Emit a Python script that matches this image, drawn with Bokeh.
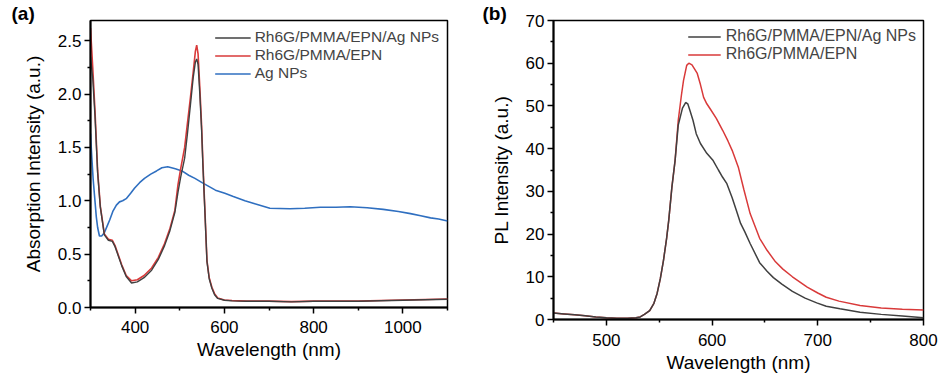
from bokeh.plotting import figure
from bokeh.layouts import row, column
from bokeh.models import Range1d, FixedTicker, Legend, LegendItem, PrintfTickFormatter
from bokeh.embed import file_html
from bokeh.resources import INLINE

# ---------------- Panel (a): absorption ----------------
a_wl_epn = [300, 305, 310, 316, 322, 331, 340, 349, 355, 360, 370, 380, 392, 405, 420, 437, 452, 466,
            478, 489, 496, 502, 511, 517, 524, 530, 535, 538, 541, 545, 549, 552, 556, 561, 566, 572,
            578, 585, 600, 617, 650, 700, 750, 800, 850, 900, 950, 1000, 1050, 1100]
a_abs_epn = [2.62, 2.25, 1.85, 1.28, 0.95, 0.69, 0.64, 0.63, 0.58, 0.52, 0.40, 0.30, 0.25, 0.26, 0.30,
             0.37, 0.47, 0.60, 0.74, 0.91, 1.15, 1.30, 1.50, 1.72, 1.97, 2.20, 2.40, 2.46, 2.38, 2.06,
             1.70, 1.35, 0.95, 0.44, 0.28, 0.19, 0.13, 0.09, 0.07, 0.065, 0.06, 0.06, 0.055, 0.06,
             0.06, 0.06, 0.065, 0.07, 0.075, 0.08]

a_wl_ag_film = [300, 305, 310, 316, 322, 331, 340, 349, 355, 360, 370, 380, 392, 405, 420, 437, 452, 466,
                478, 489, 496, 502, 511, 517, 524, 530, 535, 538, 541, 545, 549, 552, 556, 561, 566, 572,
                578, 585, 600, 617, 650, 700, 750, 800, 850, 900, 950, 1000, 1050, 1100]
a_abs_ag_film = [2.35, 2.15, 1.80, 1.26, 0.94, 0.68, 0.63, 0.62, 0.57, 0.51, 0.39, 0.29, 0.23, 0.24, 0.28,
                 0.35, 0.45, 0.58, 0.72, 0.89, 1.08, 1.22, 1.40, 1.62, 1.90, 2.15, 2.30, 2.33, 2.28, 2.00,
                 1.66, 1.32, 0.93, 0.43, 0.27, 0.18, 0.12, 0.085, 0.068, 0.062, 0.058, 0.058, 0.053, 0.058,
                 0.058, 0.058, 0.063, 0.068, 0.073, 0.078]

a_wl_ag = [300, 303, 306, 309, 313, 316, 320, 325, 331, 337, 343, 350, 358, 365, 372, 380, 390, 399, 410,
           421, 435, 448, 460, 473, 490, 505, 520, 534, 550, 563, 580, 601, 620, 646, 670, 702, 747, 780,
           815, 850, 882, 920, 956, 990, 1017, 1040, 1062, 1080, 1100]
a_abs_ag = [1.63, 1.40, 1.20, 1.05, 0.85, 0.75, 0.67, 0.67, 0.70, 0.76, 0.82, 0.90, 0.96, 0.99, 1.00, 1.02,
            1.07, 1.12, 1.17, 1.21, 1.25, 1.28, 1.31, 1.32, 1.30, 1.28, 1.24, 1.21, 1.17, 1.14, 1.10, 1.07,
            1.04, 1.00, 0.97, 0.93, 0.925, 0.93, 0.94, 0.94, 0.945, 0.935, 0.92, 0.90, 0.88, 0.86, 0.84,
            0.83, 0.81]

a_xticks = [400, 600, 800, 1000]
a_xminor = [300, 500, 700, 900, 1100]
a_yticks = [0.0, 0.5, 1.0, 1.5, 2.0, 2.5]
a_yminor = [0.25, 0.75, 1.25, 1.75, 2.25]

# ---------------- Panel (b): PL ----------------
b_wl_epn = [450, 460, 470, 480, 490, 500, 510, 520, 528, 532, 536, 541, 545, 548, 551, 554, 557, 559, 562,
            565, 568, 571, 573, 576, 578, 581, 586, 589, 592, 595, 598, 604, 610, 615, 619, 625, 630, 636,
            645, 652, 660, 667, 676, 690, 700, 708, 720, 740, 760, 780, 800]
b_pl_epn = [1.5, 1.3, 1.1, 0.9, 0.6, 0.4, 0.3, 0.3, 0.4, 0.6, 1.2, 2.1, 3.8, 6.1, 9.5, 13.8, 19.0, 23.2,
            31.0, 37.2, 46.6, 52.5, 56.0, 59.5, 60.0, 59.6, 57.6, 55.0, 52.0, 50.5, 49.4, 47.1, 44.3, 41.8,
            39.6, 35.5, 30.5, 24.8, 19.0, 16.2, 13.5, 11.8, 10.0, 7.6, 6.2, 5.2, 4.3, 3.3, 2.7, 2.4, 2.2]

b_wl_ag = [450, 460, 470, 480, 490, 500, 510, 520, 528, 532, 536, 541, 545, 548, 551, 554, 557, 559, 562,
           565, 568, 570, 572, 575, 577, 579, 582, 585, 589, 595, 601, 606, 610, 614, 619, 623, 627, 631,
           636, 645, 652, 658, 666, 676, 688, 699, 708, 721, 740, 760, 780, 800]
b_pl_ag = [1.5, 1.3, 1.1, 0.9, 0.6, 0.4, 0.3, 0.3, 0.4, 0.6, 1.2, 2.1, 3.8, 6.1, 9.5, 13.8, 19.0, 23.2,
           31.0, 37.2, 45.5, 47.5, 49.5, 50.8, 50.5, 49.0, 46.6, 43.5, 41.2, 38.9, 37.2, 35.0, 33.3, 31.8,
           28.5, 25.5, 22.5, 20.5, 17.8, 13.3, 11.3, 9.8, 8.3, 6.6, 5.0, 3.9, 3.1, 2.5, 1.7, 1.2, 0.8, 0.4]

b_xticks = [500, 600, 700, 800]
b_xminor = [450, 550, 650, 750]
b_yticks = [0, 10, 20, 30, 40, 50, 60, 70]
b_yminor = [5, 15, 25, 35, 45, 55, 65]

label_ag_film = "Rh6G/PMMA/EPN/Ag NPs"
label_epn = "Rh6G/PMMA/EPN"
label_ag = "Ag NPs"
xlabel = "Wavelength (nm)"

C_BLACK = "#404040"
C_RED = "#d93a3a"
C_BLUE = "#2f6fc0"
FONT = "Liberation Sans"


def style(p, xt, xm, yt, ym, ylabel, ystandoff, panel_tag, tag_offset):
    p.xaxis.ticker = FixedTicker(ticks=xt, minor_ticks=xm)
    p.yaxis.ticker = FixedTicker(ticks=yt, minor_ticks=ym)
    p.xgrid.visible = False
    p.ygrid.visible = False
    p.outline_line_color = "black"
    p.outline_line_width = 1.5
    p.outline_line_alpha = 1.0
    for ax in (p.xaxis[0], p.yaxis[0]):
        ax.axis_line_width = 2
        ax.axis_line_color = "black"
        ax.major_tick_line_color = "black"
        ax.major_tick_line_width = 1.5
        ax.minor_tick_line_color = "black"
        ax.minor_tick_line_width = 1.5
        ax.major_tick_out = 6
        ax.major_tick_in = 0
        ax.minor_tick_out = 3
        ax.minor_tick_in = 0
        ax.major_label_text_font = FONT
        ax.major_label_text_font_size = "17px"
        ax.major_label_text_color = "black"
        ax.axis_label_text_font = FONT
        ax.axis_label_text_font_size = "19px"
        ax.axis_label_text_font_style = "normal"
        ax.axis_label_text_color = "black"
    p.xaxis.axis_label = xlabel
    p.yaxis.axis_label = ylabel
    p.yaxis.major_label_standoff = 3
    p.yaxis.axis_label_standoff = ystandoff
    p.title.text = panel_tag
    p.title.align = "left"
    p.title.offset = tag_offset
    p.title.standoff = -6
    p.title.text_font = FONT
    p.title.text_font_size = "19px"
    p.title.text_font_style = "bold"
    p.title.text_color = "black"


# ---------------- Figure a ----------------
pa = figure(width=470, height=380, output_backend="svg", toolbar_location=None,
            x_range=Range1d(300, 1100), y_range=Range1d(0, 2.69),
            min_border_left=90, min_border_right=23, min_border_top=20, min_border_bottom=73)
style(pa, a_xticks, a_xminor, a_yticks, a_yminor, "Absorption Intensity (a.u.)", 11, "(a)", -79)
pa.yaxis.formatter = PrintfTickFormatter(format="%.1f")
pa.xaxis.major_label_standoff = 7
pa.xaxis.axis_label_standoff = 3

ra_ag = pa.line(a_wl_ag, a_abs_ag, line_color=C_BLUE, line_width=1.6)
ra_epn = pa.line(a_wl_epn, a_abs_epn, line_color=C_RED, line_width=1.6)
ra_film = pa.line(a_wl_ag_film, a_abs_ag_film, line_color=C_BLACK, line_width=1.4)

leg_a = Legend(items=[LegendItem(label=label_ag_film, renderers=[ra_film]),
                      LegendItem(label=label_epn, renderers=[ra_epn]),
                      LegendItem(label=label_ag, renderers=[ra_ag])],
               location="top_right", border_line_color=None, background_fill_alpha=0,
               label_text_font=FONT, label_text_font_size="15.5px", glyph_width=36, glyph_height=17,
               label_height=17, label_standoff=4, spacing=0, padding=0, margin=8)
pa.add_layout(leg_a)

# ---------------- Figure b ----------------
pb = figure(width=470, height=380, output_backend="svg", toolbar_location=None,
            x_range=Range1d(450, 800), y_range=Range1d(0, 70),
            min_border_left=83, min_border_right=17, min_border_top=20, min_border_bottom=61)
style(pb, b_xticks, b_xminor, b_yticks, b_yminor, "PL Intensity (a.u.)", 11, "(b)", -71)
pb.xaxis.major_label_standoff = 8
pb.xaxis.axis_label_standoff = 3
pb.xaxis.major_label_text_line_height = 1.0
pb.xaxis.axis_label_text_line_height = 1.0

rb_epn = pb.line(b_wl_epn, b_pl_epn, line_color=C_RED, line_width=1.5)
rb_film = pb.line(b_wl_ag, b_pl_ag, line_color=C_BLACK, line_width=1.5)

leg_b = Legend(items=[LegendItem(label=label_ag_film, renderers=[rb_film]),
                      LegendItem(label=label_epn, renderers=[rb_epn])],
               location="top_right", border_line_color=None, background_fill_alpha=0,
               label_text_font=FONT, label_text_font_size="16px", glyph_width=33, glyph_height=17,
               label_height=17, label_standoff=5, spacing=-1, padding=0, margin=7)
pb.add_layout(leg_b)

layout = row(column(pa), column(pb))
open("out.html", "w").write(file_html(layout, INLINE))
